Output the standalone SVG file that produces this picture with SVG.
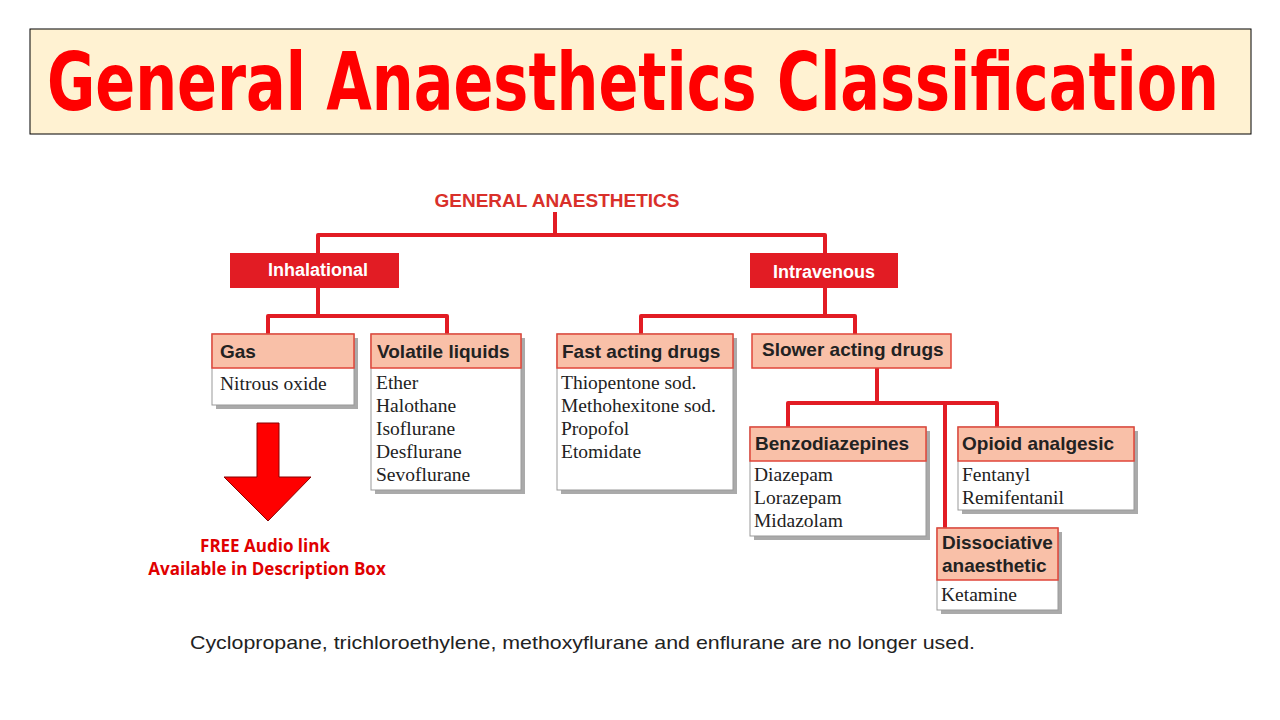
<svg xmlns="http://www.w3.org/2000/svg" width="1280" height="720" viewBox="0 0 1280 720">
<style>
.hd{fill:#f9c0a8;stroke:#e0463a;stroke-width:1.5}
.bd{fill:#fff;stroke:#999;stroke-width:1}
.sh{fill:#aaa}
.ht{font-family:"Liberation Sans",Arial,sans-serif;font-weight:bold;font-size:19px;fill:#222}
.bt{font-family:"Liberation Serif","Times New Roman",serif;font-size:19.5px;fill:#222}
.rb{fill:#e21c24}
.rt{font-family:"Liberation Sans",Arial,sans-serif;font-weight:bold;font-size:18px;fill:#fff}
.ln{fill:none;stroke:#e21c24;stroke-width:4;stroke-linejoin:round}
</style>
<rect width="1280" height="720" fill="#fff"/>
<g id="title">
<rect x="30" y="29" width="1221" height="105" fill="#fff2d2" stroke="#000" stroke-width="1"/>
<text x="47" y="110" font-family="'DejaVu Sans Condensed','Liberation Sans',sans-serif" font-weight="bold" font-size="80" fill="#ff0000" textLength="1172" lengthAdjust="spacingAndGlyphs">General Anaesthetics Classification</text>
</g>
<g id="connectors">
<path class="ln" d="M555 212V235M318 253V235H825V253"/>
<path class="ln" d="M318 288V316M268 334V316H447V334"/>
<path class="ln" d="M825 288V316M641 334V316H855V334"/>
<path class="ln" d="M877 368V403M788 427V403H997V427M945 403V528"/>
</g>
<g id="root"><text x="557" y="207" text-anchor="middle" font-family="'Liberation Sans',Arial,sans-serif" font-weight="bold" font-size="19" fill="#d9302a" textLength="245" lengthAdjust="spacingAndGlyphs">GENERAL ANAESTHETICS</text></g>
<g id="inhalational"><rect class="rb" x="230" y="253" width="169" height="35"/><text class="rt" x="318" y="276" text-anchor="middle">Inhalational</text></g>
<g id="intravenous"><rect class="rb" x="750" y="253" width="148" height="35"/><text class="rt" x="824" y="278" text-anchor="middle">Intravenous</text></g>
<g id="gas"><rect class="sh" x="216" y="338" width="142" height="71"/><rect class="bd" x="212" y="334" width="142" height="71"/><rect class="hd" x="212" y="334" width="142" height="34"/><text class="ht" x="220" y="358">Gas</text><text class="bt" x="220" y="390">Nitrous oxide</text></g>
<g id="volatile"><rect class="sh" x="375" y="338" width="150" height="156"/><rect class="bd" x="371" y="334" width="150" height="156"/><rect class="hd" x="371" y="334" width="150" height="34"/><text class="ht" x="377" y="358">Volatile liquids</text><text class="bt" x="376" y="389">Ether</text><text class="bt" x="376" y="412">Halothane</text><text class="bt" x="376" y="435">Isoflurane</text><text class="bt" x="376" y="458">Desflurane</text><text class="bt" x="376" y="481">Sevoflurane</text></g>
<g id="fast"><rect class="sh" x="561" y="338" width="176" height="156"/><rect class="bd" x="557" y="334" width="176" height="156"/><rect class="hd" x="557" y="334" width="176" height="34"/><text class="ht" x="562" y="358">Fast acting drugs</text><text class="bt" x="561" y="389">Thiopentone sod.</text><text class="bt" x="561" y="412">Methohexitone sod.</text><text class="bt" x="561" y="435">Propofol</text><text class="bt" x="561" y="458">Etomidate</text></g>
<g id="slower"><rect class="hd" x="752" y="334" width="199" height="34"/><text class="ht" x="762" y="356">Slower acting drugs</text></g>
<g id="benzo"><rect class="sh" x="754" y="431" width="176" height="109"/><rect class="bd" x="750" y="427" width="176" height="109"/><rect class="hd" x="750" y="427" width="176" height="34"/><text class="ht" x="755" y="450">Benzodiazepines</text><text class="bt" x="754" y="481">Diazepam</text><text class="bt" x="754" y="504">Lorazepam</text><text class="bt" x="754" y="527">Midazolam</text></g>
<g id="opioid"><rect class="sh" x="962" y="431" width="176" height="83"/><rect class="bd" x="958" y="427" width="176" height="83"/><rect class="hd" x="958" y="427" width="176" height="34"/><text class="ht" x="962" y="450">Opioid analgesic</text><text class="bt" x="962" y="481">Fentanyl</text><text class="bt" x="962" y="504">Remifentanil</text></g>
<g id="dissociative"><rect class="sh" x="941" y="532" width="121" height="82"/><rect class="bd" x="937" y="528" width="121" height="82"/><rect class="hd" x="937" y="528" width="121" height="52"/><text class="ht" x="942" y="549">Dissociative</text><text class="ht" x="942" y="572">anaesthetic</text><text class="bt" x="941" y="601">Ketamine</text></g>
<g id="arrow"><polygon points="257,423 279,423 279,477 311,477 268,521 224,477 257,477" fill="#ff0000" stroke="#800" stroke-width="1"/></g>
<g id="free"><text x="265" y="552" text-anchor="middle" font-family="'Open Sans','Liberation Sans',sans-serif" font-weight="bold" font-size="17" fill="#e00000">FREE Audio link</text><text x="267" y="575" text-anchor="middle" font-family="'Open Sans','Liberation Sans',sans-serif" font-weight="bold" font-size="17" fill="#e00000">Available in Description Box</text></g>
<g id="note"><text x="190" y="649" font-family="'Liberation Sans',Arial,sans-serif" font-size="19" fill="#222" textLength="785" lengthAdjust="spacingAndGlyphs">Cyclopropane, trichloroethylene, methoxyflurane and enflurane are no longer used.</text></g>
</svg>
